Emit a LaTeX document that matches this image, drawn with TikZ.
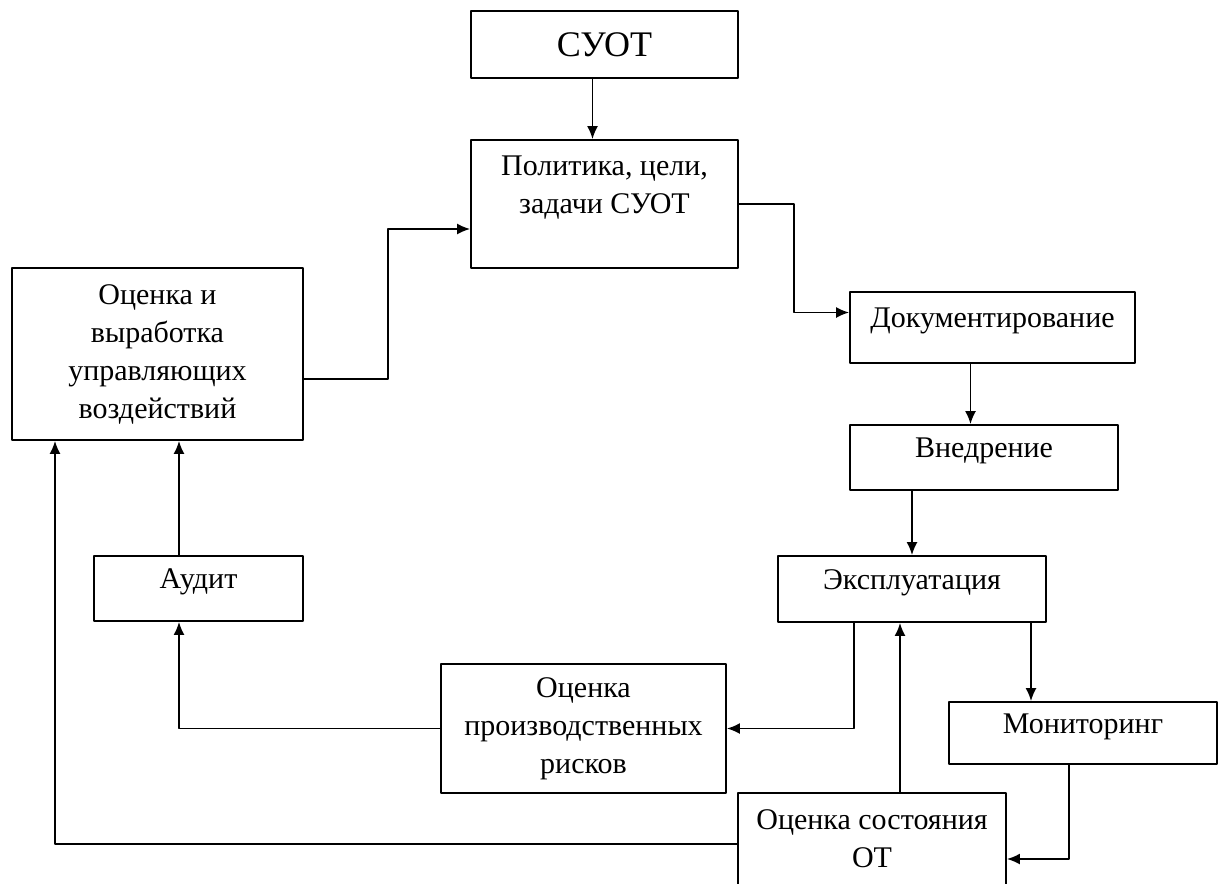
\documentclass[tikz,border=0pt]{standalone}
\usepackage{fontspec}
\setmainfont{Liberation Serif}
\usetikzlibrary{arrows.meta}

\begin{document}
\begin{tikzpicture}[x=0.5pt, y=-0.5pt, line cap=round, line join=round,
    >={Latex[length=6.5pt,width=5.5pt]},
    block/.style={draw, line width=0.9pt, align=center, inner sep=2pt,
    font=\fontsize{15pt}{19pt}\selectfont},
    oneline/.style={block, text height=10pt, text depth=10pt}]

  \useasboundingbox (0,0) rectangle (1224,883);

  \node[block, minimum width=133.5pt, minimum height=33.5pt,
    font=\fontsize{18pt}{22pt}\selectfont] (suot) at (604.5,44.5) {СУОТ};
  \node[block, minimum width=133.5pt, minimum height=64pt] (pol) at (604.5,204)
    {Политика, цели,\\ задачи СУОТ\\ \mbox{}};
  \node[oneline, minimum width=142.5pt, minimum height=35.5pt] (dok) at (992.5,327.5) {Документирование};
  \node[oneline, minimum width=134pt, minimum height=32.5pt] (vned) at (984,457.5) {Внедрение};
  \node[oneline, minimum width=134pt, minimum height=33pt] (ekspl) at (912,589) {Эксплуатация};
  \node[oneline, minimum width=134pt, minimum height=31pt] (monit) at (1083,733) {Мониторинг};
  \node[block, minimum width=134pt, minimum height=46pt] (sost) at (872,839)
    {Оценка состояния\\ ОТ};
  \node[block, minimum width=142.5pt, minimum height=64.5pt] (risk) at (583.5,728.5)
    {Оценка\\ производственных\\ рисков};
  \node[oneline, minimum width=104.5pt, minimum height=32.5pt] (audit) at (198.5,588.5) {Аудит};
  \node[block, minimum width=145.5pt, minimum height=86pt] (ocenka) at (157.5,354)
    {Оценка и\\ выработка\\ управляющих\\ воздействий};

  \begin{scope}[->, line width=0.9pt]
    \draw ([xshift=-6pt]suot.south) -- ([xshift=-6pt]pol.north);
    \draw ([yshift=-12.5pt]ocenka.east) -- ++(84,0) |- ([yshift=-12.5pt]pol.west);
    \draw (pol.east) -- ++(55,0) |- ([yshift=7.5pt]dok.west);
    \draw ([xshift=-11pt]dok.south) -- ([xshift=-11pt]dok.south |- vned.north);
    \draw (vned.south -| ekspl.north) -- (ekspl.north);
    \draw ([xshift=-29pt]ekspl.south) |- (risk.east);
    \draw ([xshift=59.5pt]ekspl.south) -- ([xshift=59.5pt]ekspl.south |- monit.north);
    \draw ([xshift=14pt]sost.north) -- ([xshift=14pt]sost.north |- ekspl.south);
    \draw ([xshift=-7pt]monit.south) |- ([yshift=-10pt]sost.east);
    \draw (risk.west) -| ([xshift=-9.75pt]audit.south);
    \draw ([xshift=-9.75pt]audit.north) -- ([xshift=-9.75pt]audit.north |- ocenka.south);
    \draw ([yshift=-2.5pt]sost.west) -| ([xshift=-51.25pt]ocenka.south);
  \end{scope}
\end{tikzpicture}
\end{document}
